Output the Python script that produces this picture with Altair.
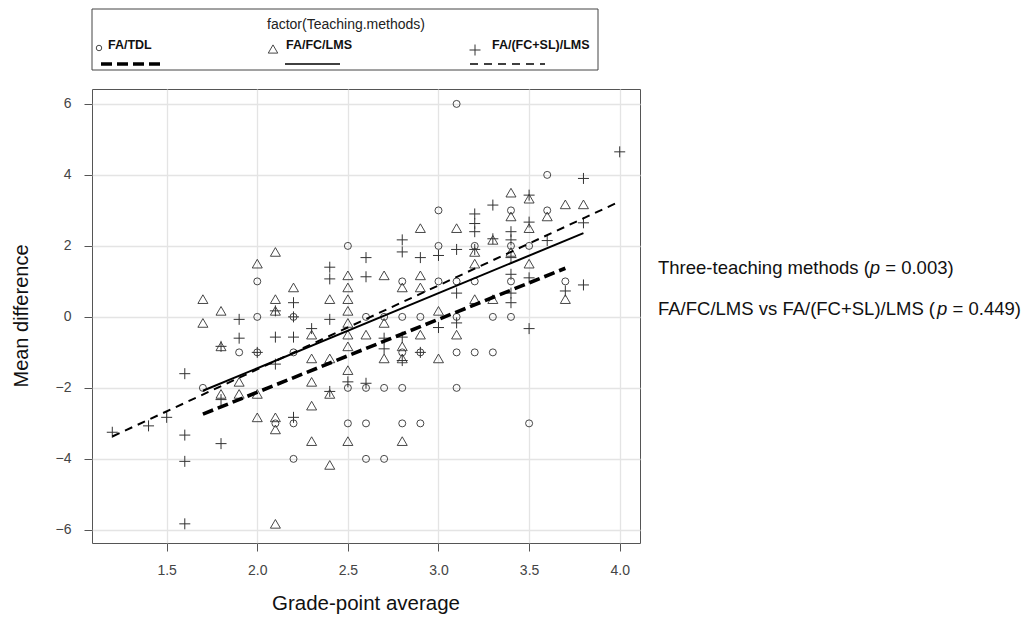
import altair as alt
import pandas as pd

# ---------------- data ----------------
tdl_x = [1.7, 1.9, 2.0, 2.0, 2.0, 2.1, 2.2, 2.2, 2.2, 2.2, 2.5, 2.5, 2.5, 2.6, 2.6, 2.6, 2.6,
         2.7, 2.7, 2.7, 2.8, 2.8, 2.8, 2.8, 2.8, 2.9, 2.9, 2.9, 3.0, 3.0, 3.0, 3.1, 3.1, 3.1,
         3.1, 3.1, 3.2, 3.2, 3.2, 3.3, 3.3, 3.4, 3.4, 3.4, 3.4, 3.5, 3.5, 3.6, 3.6, 3.7]
tdl_y = [-2, -1, 1, 0, -1, -3, 0, -1, -3, -4, 2, -2, -3, 0, -2, -3, -4,
         0, -2, -4, 1, 0, -1, -2, -3, 0, -1, -3, 3, 2, 1, 6, 1, 0,
         -1, -2, 2, 1, -1, 0, -1, 3, 2, 1, 0, 2, -3, 4, 3, 1]

fc_x = [1.7, 1.7, 1.8, 1.8, 1.8, 1.9, 1.9, 2.0, 2.0, 2.0, 2.1, 2.1, 2.1, 2.1, 2.1, 2.1,
        2.2, 2.3, 2.3, 2.3, 2.3, 2.3, 2.4, 2.4, 2.4, 2.4, 2.5, 2.5, 2.5, 2.5, 2.5, 2.5,
        2.5, 2.5, 2.5, 2.6, 2.7, 2.7, 2.7, 2.8, 2.8, 2.8, 2.8, 2.9, 2.9, 2.9, 2.9, 3.0,
        3.0, 3.1, 3.1, 3.2, 3.2, 3.2, 3.3, 3.3, 3.4, 3.4, 3.4, 3.5, 3.5, 3.5, 3.6, 3.7,
        3.7, 3.8]
fc_y = [0.5, -0.17, 0.17, -0.83, -2.17, -1.83, -2.17, 1.5, -2.17, -2.83, 1.83, 0.5, 0.17, -2.83, -3.17, -5.83,
        0.83, -0.5, -1.17, -1.83, -2.5, -3.5, 0.5, -1.17, -2.17, -4.17, 1.17, 0.83, 0.5, 0.17, -0.17, -0.5,
        -0.83, -1.5, -3.5, -0.5, 1.17, -0.17, -1.17, 0.83, -0.83, -1.17, -3.5, 2.5, 1.17, 0.83, -0.5, 0.17,
        -1.17, 2.5, -0.5, 1.83, 1.5, 0.5, 2.17, 0.5, 3.5, 2.83, 1.83, 3.33, 2.5, 1.5, 2.83, 3.17,
        0.5, 3.17]

fcsl_x = [1.2, 1.4, 1.5, 1.6, 1.6, 1.6, 1.6, 1.8, 1.8, 1.8, 1.9, 1.9, 2.0, 2.1, 2.1, 2.1,
          2.2, 2.2, 2.2, 2.2, 2.3, 2.4, 2.4, 2.4, 2.4, 2.5, 2.6, 2.6, 2.6, 2.7, 2.7, 2.8,
          2.8, 2.8, 2.8, 2.9, 2.9, 3.0, 3.0, 3.1, 3.1, 3.1, 3.2, 3.2, 3.2, 3.2, 3.3, 3.3,
          3.4, 3.4, 3.4, 3.4, 3.4, 3.4, 3.5, 3.5, 3.5, 3.5, 3.6, 3.7, 3.8, 3.8, 3.8, 4.0]
fcsl_y = [-3.25, -3.07, -2.83, -1.6, -3.33, -4.07, -5.83, -0.83, -2.33, -3.57, -0.07, -0.6, -1.0, 0.17, -0.57, -1.33,
          0.4, 0.0, -0.57, -2.83, -0.33, 1.4, 1.07, -0.07, -2.1, -1.83, 1.67, 1.13, -1.87, -0.6, -0.9, 2.17,
          1.83, -0.57, -1.23, 1.67, -1.0, 1.73, -0.3, 1.9, 0.67, -0.17, 2.9, 2.63, 2.4, 1.9, 3.15, 2.2,
          2.4, 2.17, 1.67, 1.2, 0.67, 0.4, 3.43, 2.67, 1.1, -0.33, 2.15, 0.73, 3.9, 2.65, 0.9, 4.65]

# fitted regression lines (end points)
fit_groups = ["FA/TDL", "FA/FC/LMS", "FA/(FC+SL)/LMS"]
fit_x0 = [1.7, 1.7, 1.2]
fit_x1 = [3.7, 3.8, 4.0]
fit_y0 = [-2.74, -2.08, -3.37]
fit_y1 = [1.37, 2.36, 3.25]

x_ticks = [1.5, 2.0, 2.5, 3.0, 3.5, 4.0]
y_ticks = [-6, -4, -2, 0, 2, 4, 6]

FONT = "Liberation Sans, Arial, sans-serif"
INK = "#333333"

pts = pd.DataFrame({
    "gpa": tdl_x + fc_x + fcsl_x,
    "md": tdl_y + fc_y + fcsl_y,
    "grp": ["FA/TDL"] * len(tdl_x) + ["FA/FC/LMS"] * len(fc_x) + ["FA/(FC+SL)/LMS"] * len(fcsl_x),
})
fits = pd.DataFrame({
    "gpa": fit_x0 + fit_x1,
    "md": fit_y0 + fit_y1,
    "grp": fit_groups + fit_groups,
})

X = alt.X("gpa:Q",
          scale=alt.Scale(domain=[1.088, 4.112], nice=False, zero=False),
          axis=alt.Axis(values=x_ticks, format=".1f", title=None, labelPadding=12))
Y = alt.Y("md:Q",
          scale=alt.Scale(domain=[-6.37, 6.42], nice=False, zero=False),
          axis=alt.Axis(values=y_ticks, format="d", title=None, labelPadding=13))

base = alt.Chart(pts)
circ = base.transform_filter(alt.datum.grp == "FA/TDL").mark_point(
    shape="circle", filled=False, size=49, stroke=INK, strokeWidth=0.9, opacity=1
).encode(x=X, y=Y)
tri = base.transform_filter(alt.datum.grp == "FA/FC/LMS").mark_point(
    shape="triangle-up", filled=False, size=100, stroke=INK, strokeWidth=0.9, opacity=1
).encode(x=X, y=Y)
plus = base.transform_filter(alt.datum.grp == "FA/(FC+SL)/LMS").mark_point(
    shape="M-1,0L1,0M0,-1L0,1", filled=False, size=121, stroke=INK, strokeWidth=1.0, opacity=1
).encode(x=X, y=Y)

fb = alt.Chart(fits)
line_tdl = fb.transform_filter(alt.datum.grp == "FA/TDL").mark_line(
    color="black", strokeWidth=3.6, strokeDash=[11, 5]).encode(x=X, y=Y)
line_fc = fb.transform_filter(alt.datum.grp == "FA/FC/LMS").mark_line(
    color="black", strokeWidth=2).encode(x=X, y=Y)
line_fcsl = fb.transform_filter(alt.datum.grp == "FA/(FC+SL)/LMS").mark_line(
    color="black", strokeWidth=2, strokeDash=[8, 6]).encode(x=X, y=Y)

# ---------------- legend (drawn in pixel space above the plot) ----------------
one = alt.Chart(pd.DataFrame({"k": [0]}))
leg_box = one.mark_rect(fillOpacity=0, stroke="#444", strokeWidth=1).encode(
    x=alt.value(0), x2=alt.value(506), y=alt.value(-80), y2=alt.value(-19))
leg_title = one.mark_text(text="factor(Teaching.methods)", font=FONT, fontSize=14,
                          color="#222", align="center", baseline="middle").encode(
    x=alt.value(254), y=alt.value(-64))
leg_c = one.mark_point(shape="circle", filled=False, size=30, stroke=INK, strokeWidth=0.9,
                       opacity=1).encode(x=alt.value(7), y=alt.value(-41))
leg_t = one.mark_point(shape="triangle-up", filled=False, size=90, stroke=INK, strokeWidth=0.9,
                       opacity=1).encode(x=alt.value(181), y=alt.value(-40))
leg_p = one.mark_point(shape="M-1,0L1,0M0,-1L0,1", filled=False, size=121, stroke=INK,
                       strokeWidth=1, opacity=1).encode(x=alt.value(383), y=alt.value(-39))
leg_l1 = one.mark_text(text="FA/TDL", font=FONT, fontSize=12.5, fontWeight="bold", color="#111",
                       align="left", baseline="middle").encode(x=alt.value(16), y=alt.value(-44))
leg_l2 = one.mark_text(text="FA/FC/LMS", font=FONT, fontSize=12.5, fontWeight="bold", color="#111",
                       align="left", baseline="middle").encode(x=alt.value(194), y=alt.value(-44))
leg_l3 = one.mark_text(text="FA/(FC+SL)/LMS", font=FONT, fontSize=12.5, fontWeight="bold", color="#111",
                       align="left", baseline="middle").encode(x=alt.value(400), y=alt.value(-44))
leg_s1 = one.mark_rule(color="black", strokeWidth=3.6, strokeDash=[11, 5]).encode(
    x=alt.value(9), x2=alt.value(68), y=alt.value(-25))
leg_s2 = one.mark_rule(color="black", strokeWidth=1.6).encode(
    x=alt.value(193), x2=alt.value(248), y=alt.value(-25))
leg_s3 = one.mark_rule(color="black", strokeWidth=1.6, strokeDash=[8, 6]).encode(
    x=alt.value(378), x2=alt.value(453), y=alt.value(-25))

# ---------------- x / y titles ----------------
xt = one.mark_text(text="Grade-point average", font=FONT, fontSize=20.5, color="#111",
                   align="center", baseline="middle").encode(x=alt.value(274), y=alt.value(515))
yt = one.mark_text(text="Mean difference", font=FONT, fontSize=20, color="#111", angle=270,
                   align="center", baseline="middle").encode(x=alt.value(-70), y=alt.value(227))

# ---------------- annotation on right ----------------
FS = 18.5
x0 = 566
seg = []
def add(txt, xpos, ypos, italic=False):
    kw = dict(text=txt, font=FONT, fontSize=FS, color="#111", align="left", baseline="middle")
    if italic:
        kw["fontStyle"] = "italic"
    seg.append(one.mark_text(**kw).encode(x=alt.value(xpos), y=alt.value(ypos)))

a1 = 11.449 * FS
add("Three-teaching methods (", x0, 179)
add("p", x0 + a1, 179, italic=True)
add("= 0.003)", x0 + a1 + (0.556 + 0.278) * FS, 179)
a2 = 15.086 * FS
add("FA/FC/LMS vs FA/(FC+SL)/LMS (", x0, 220)
add("p", x0 + a2, 220, italic=True)
add("= 0.449)", x0 + a2 + (0.556 + 0.278) * FS, 220)

chart = alt.layer(
    circ, tri, plus, line_tdl, line_fc, line_fcsl,
    leg_box, leg_title, leg_c, leg_t, leg_p, leg_l1, leg_l2, leg_l3, leg_s1, leg_s2, leg_s3,
    xt, yt, *seg
).properties(
    width=548, height=454,
    autosize=alt.AutoSizeParams(type="none"),
    padding={"left": 84, "top": 81, "right": 383, "bottom": 74},
).configure_view(
    stroke="#555555", strokeWidth=1
).configure_axis(
    grid=True, gridColor="#e4e4e4", gridWidth=1.3, domain=False,
    tickColor="#555555", tickSize=8, tickWidth=1,
    labelFont=FONT, labelFontSize=14, labelColor="#444444",
).configure_axisY(labelAlign="right")

chart.save("out.html", embed_options={"renderer": "svg", "actions": False})
